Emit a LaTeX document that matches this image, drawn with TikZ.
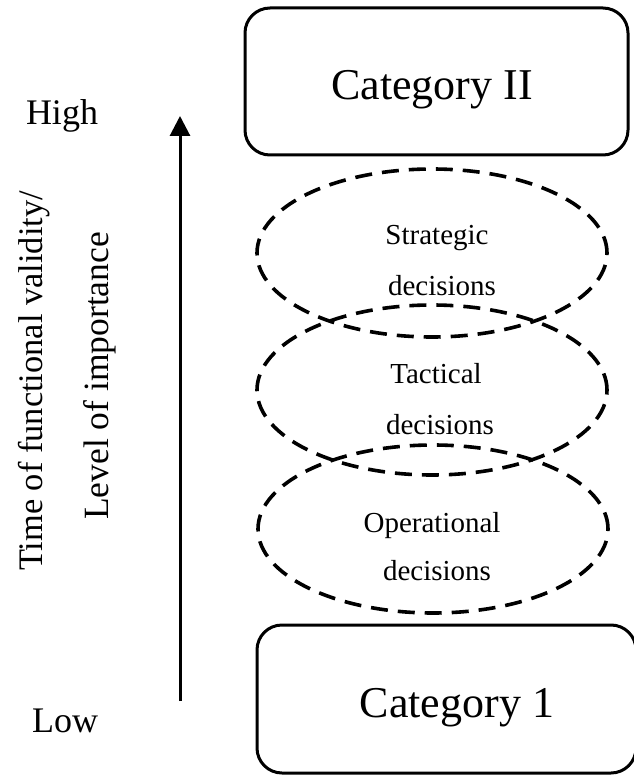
\documentclass[tikz,border=0pt]{standalone}
\usepackage{fontspec}
\setmainfont{Liberation Serif}
\usetikzlibrary{arrows.meta,shapes.geometric}

\tikzset{
  catbox/.style={draw, line width=3pt, rounded corners=25pt, inner sep=0pt},
  decision/.style={draw, ellipse, line width=3.6pt, dash pattern=on 17pt off 10pt, inner sep=0pt},
  cattext/.style={anchor=base, inner sep=0pt, font=\fontsize{44}{50}\selectfont},
  dectext/.style={anchor=base, inner sep=0pt, font=\fontsize{29}{34}\selectfont},
  endtext/.style={anchor=base, inner sep=0pt, font=\fontsize{36}{42}\selectfont},
  axistext/.style={anchor=base, rotate=90, inner sep=0pt},
  axisarrow/.style={line width=3pt, -{Triangle[length=20pt,width=20pt]}}
}

\begin{document}
\begin{tikzpicture}[x=1pt, y=-1pt]
  \useasboundingbox (0,0) rectangle (633,775);

  % category boxes
  \node[catbox, minimum width=383pt, minimum height=147pt] (cat2) at (436.5,81.5) {};
  \node[cattext] (cat2t) at (432,100) {Category II};
  \node[catbox, minimum width=379pt, minimum height=148pt] (cat1) at (446.5,699) {};
  \node[cattext] (cat1t) at (457,717) {Category 1};

  % overlapping decision levels
  \node[decision, minimum width=350pt, minimum height=168pt] (strat) at (432,253) {};
  \node[decision, minimum width=350pt, minimum height=170pt] (tact) at (432,390) {};
  \node[decision, minimum width=350pt, minimum height=168pt] (oper) at (433,529) {};

  \node[dectext] (strat1) at (437,245) {Strategic};
  \node[dectext] (strat2) at (442,295) {decisions};
  \node[dectext] (tact1) at (436,383) {Tactical};
  \node[dectext] (tact2) at (440,434) {decisions};
  \node[dectext] (oper1) at (432,532) {Operational};
  \node[dectext] (oper2) at (437,580) {decisions};

  % vertical axis
  \coordinate (low) at (180,701);
  \coordinate (high) at (180,116);
  \draw[axisarrow] (low) -- (high);

  \node[endtext] (hightext) at (62,125) {High};
  \node[endtext] (lowtext) at (65,732) {Low};

  \node[axistext, font=\fontsize{34.4}{40}\selectfont] (axis1) at (42,381) {Time of functional validity/};
  \node[axistext, font=\fontsize{35.5}{40}\selectfont] (axis2) at (108,376) {Level of importance};
\end{tikzpicture}
\end{document}
